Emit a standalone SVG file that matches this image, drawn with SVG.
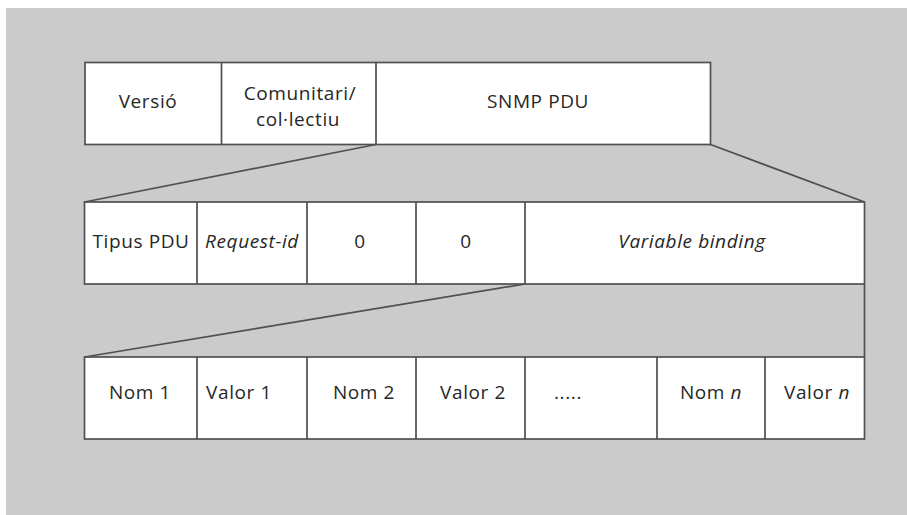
<svg xmlns="http://www.w3.org/2000/svg" width="907" height="515" viewBox="0 0 907 515">
  <style>
    .cell { fill: #ffffff; stroke: #505050; stroke-width: 1.7; }
    .div { stroke: #505050; stroke-width: 1.7; fill: none; }
    .lbl { font-family: "Open Sans", "Noto Sans", sans-serif; font-size: 19px; fill: #262626; letter-spacing: 0.6px; text-anchor: middle; }
    .it { font-style: italic; }
    .conn line { stroke: #505050; stroke-width: 1.7; }
  </style>
  <rect x="0" y="0" width="907" height="515" fill="#ffffff"/>
  <rect x="6" y="8" width="901" height="507" fill="#cbcbcb"/>

  <!-- message header -->
  <g id="message">
    <rect class="cell" x="85" y="62.5" width="625.5" height="82"/>
    <line class="div" x1="221.5" y1="62.5" x2="221.5" y2="144.5"/>
    <line class="div" x1="376" y1="62.5" x2="376" y2="144.5"/>
    <text class="lbl" x="148" y="108">Versió</text>
    <text class="lbl" x="300" y="100">Comunitari/</text>
    <text class="lbl" x="298" y="126">col·lectiu</text>
    <text class="lbl" x="538" y="108">SNMP PDU</text>
  </g>

  <!-- PDU fields -->
  <g id="pdu">
    <rect class="cell" x="84.5" y="202" width="780" height="82"/>
    <line class="div" x1="197" y1="202" x2="197" y2="284"/>
    <line class="div" x1="307" y1="202" x2="307" y2="284"/>
    <line class="div" x1="416" y1="202" x2="416" y2="284"/>
    <line class="div" x1="525" y1="202" x2="525" y2="284"/>
    <text class="lbl" x="141" y="248">Tipus PDU</text>
    <text class="lbl it" x="252" y="248">Request-id</text>
    <text class="lbl" x="360" y="248">0</text>
    <text class="lbl" x="466" y="248">0</text>
    <text class="lbl it" x="692" y="248">Variable binding</text>
  </g>

  <!-- variable bindings -->
  <g id="bindings">
    <rect class="cell" x="84.5" y="357" width="780" height="82"/>
    <line class="div" x1="197" y1="357" x2="197" y2="439"/>
    <line class="div" x1="307" y1="357" x2="307" y2="439"/>
    <line class="div" x1="416" y1="357" x2="416" y2="439"/>
    <line class="div" x1="525" y1="357" x2="525" y2="439"/>
    <line class="div" x1="657" y1="357" x2="657" y2="439"/>
    <line class="div" x1="765" y1="357" x2="765" y2="439"/>
    <text class="lbl" x="140" y="399">Nom 1</text>
    <text class="lbl" x="239" y="399">Valor 1</text>
    <text class="lbl" x="364" y="399">Nom 2</text>
    <text class="lbl" x="473" y="399">Valor 2</text>
    <text class="lbl" x="568" y="399">.....</text>
    <text class="lbl" x="711" y="399">Nom <tspan class="it">n</tspan></text>
    <text class="lbl" x="817" y="399">Valor <tspan class="it">n</tspan></text>
  </g>

  <!-- expansion lines -->
  <g id="connectors" class="conn">
    <line x1="376" y1="144.5" x2="84.5" y2="202"/>
    <line x1="710.5" y1="144.5" x2="864.5" y2="202"/>
    <line x1="525" y1="284" x2="84.5" y2="357"/>
    <line x1="864.5" y1="284" x2="864.5" y2="357"/>
  </g>
</svg>
